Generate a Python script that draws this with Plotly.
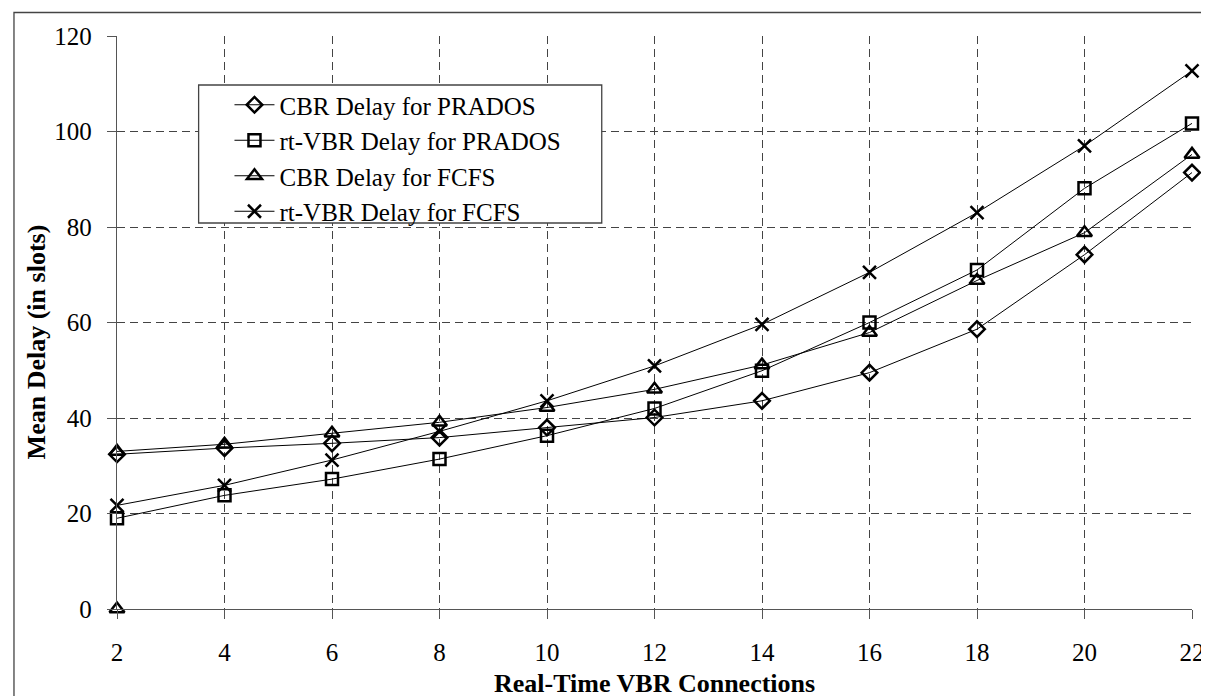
import plotly.graph_objects as go

# ---- data ----
connections = [2, 4, 6, 8, 10, 12, 14, 16, 18, 20, 22]
cbr_prados = [32.4, 33.7, 34.7, 35.9, 38.0, 40.1, 43.6, 49.5, 58.6, 74.2, 91.4]
rtvbr_prados = [19.0, 23.8, 27.2, 31.4, 36.3, 42.0, 49.9, 60.0, 71.0, 88.1, 101.7]
cbr_fcfs = [33.0, 34.5, 36.8, 39.1, 42.2, 46.0, 51.1, 57.9, 68.8, 78.8, 95.2]
rtvbr_fcfs = [21.7, 25.9, 31.2, 37.2, 43.6, 50.9, 59.6, 70.5, 83.0, 97.0, 112.7]
cbr_fcfs_extra_x = [2]
cbr_fcfs_extra_y = [0]

series_names = [
    "CBR Delay for PRADOS",
    "rt-VBR Delay for PRADOS",
    "CBR Delay for FCFS",
    "rt-VBR Delay for FCFS",
]
x_ticks = [2, 4, 6, 8, 10, 12, 14, 16, 18, 20, 22]
y_ticks = [0, 20, 40, 60, 80, 100, 120]

FONT = "Liberation Serif"
W, H = 1209, 696
L, R, T, B = 109, 20, 28, 95
pw, ph = W - L - R, H - T - B

fig = go.Figure()
specs = [
    (cbr_prados, "diamond-open", 12),
    (rtvbr_prados, "square-open", 12),
    (cbr_fcfs, "triangle-up-open", 13),
    (rtvbr_fcfs, "x-thin-open", 13),
]
for name, (ys, sym, sz) in zip(series_names, specs):
    fig.add_trace(go.Scatter(
        x=connections, y=ys, name=name, mode="lines+markers",
        line=dict(color="black", width=1),
        marker=dict(symbol=sym, size=sz, color="black",
                    line=dict(color="black", width=2.5)),
        cliponaxis=False,
    ))
fig.add_trace(go.Scatter(
    x=cbr_fcfs_extra_x, y=cbr_fcfs_extra_y, mode="markers", showlegend=False,
    marker=dict(symbol="triangle-up-open", size=13, color="black",
                line=dict(color="black", width=2.5)),
    cliponaxis=False,
))

axis_common = dict(
    showline=True, linecolor="#555555", linewidth=1.3,
    showgrid=True, gridcolor="#444444", gridwidth=1, griddash="8px,5px",
    ticks="outside", ticklen=9, tickcolor="#555555", tickwidth=1.3,
    tickfont=dict(family=FONT, size=25, color="black"),
    zeroline=False, mirror=False,
)
fig.update_xaxes(range=[2, 22], tickvals=x_ticks, ticklabelstandoff=12, **axis_common)
fig.update_yaxes(range=[0, 120], tickvals=y_ticks, ticklabelstandoff=10, **axis_common)

def px_x(p):
    return (p - L) / pw

def px_y(p):
    return (H - B - p) / ph

fig.add_annotation(text="<b>Real-Time VBR Connections</b>", xref="paper", yref="paper",
                   x=0.5, y=px_y(675), showarrow=False, xanchor="center", yanchor="middle",
                   font=dict(family=FONT, size=26, color="black"))
fig.add_annotation(text="<b>Mean Delay (in slots)</b>", xref="paper", yref="paper",
                   x=px_x(28), y=px_y(334), showarrow=False, textangle=-90,
                   xanchor="center", yanchor="middle",
                   font=dict(family=FONT, size=26, color="black"))

# outer chart border (bottom edge lies outside the picture)
fig.add_shape(type="rect", xref="paper", yref="paper",
              x0=px_x(5.5), x1=px_x(1201.5), y0=px_y(702), y1=px_y(4.5),
              line=dict(color="#444444", width=1.3), fillcolor="rgba(0,0,0,0)")
# legend box
fig.add_shape(type="rect", xref="paper", yref="paper", layer="above",
              x0=px_x(191), x1=px_x(596), y0=px_y(215), y1=px_y(77),
              line=dict(color="#444444", width=1.3), fillcolor="white")

fig.update_layout(
    width=W, height=H,
    margin=dict(l=L, r=R, t=T, b=B),
    paper_bgcolor="white", plot_bgcolor="white",
    showlegend=True,
    legend=dict(
        x=px_x(222), y=px_y(74), xanchor="left", yanchor="top",
        bgcolor="rgba(0,0,0,0)", borderwidth=0,
        font=dict(family=FONT, size=25, color="black"),
        tracegroupgap=0, itemwidth=40,
    ),
)

fig.write_html("out.html")
